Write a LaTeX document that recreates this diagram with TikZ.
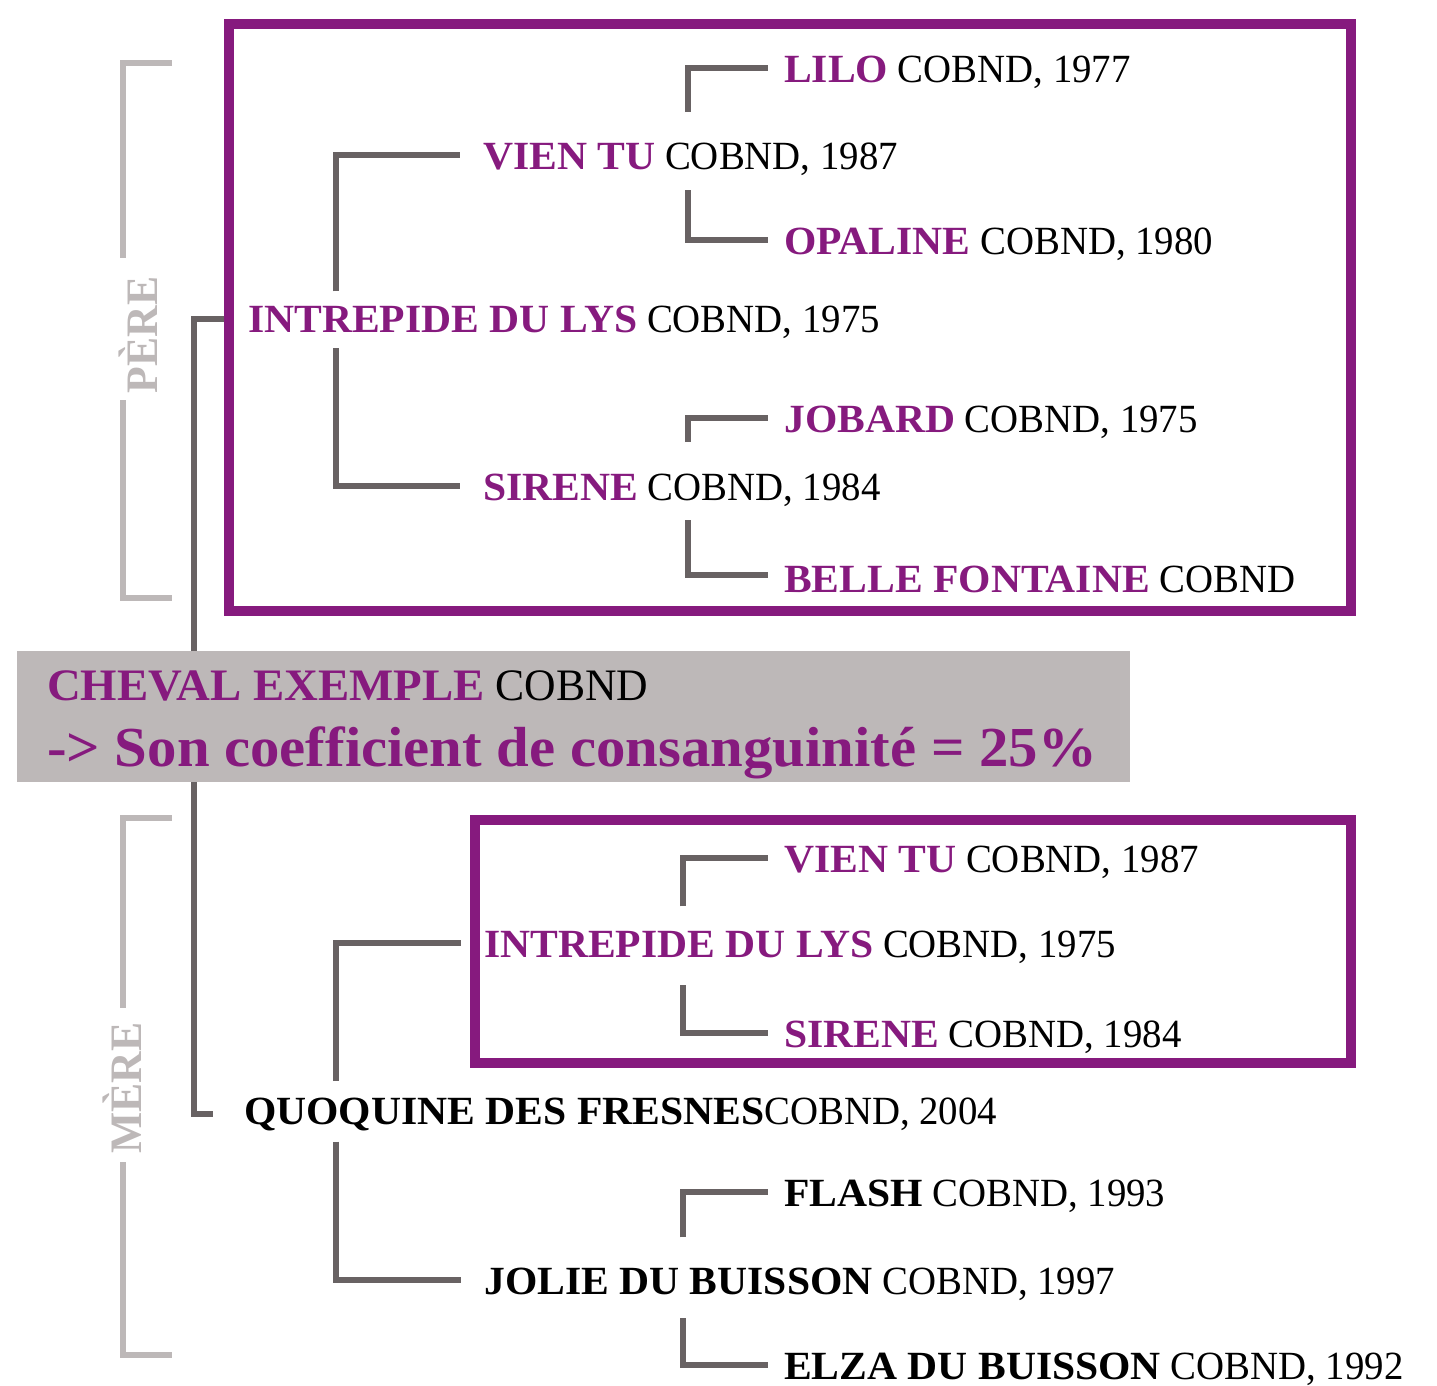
\documentclass[tikz,border=0pt]{standalone}
\usepackage{fontspec}
\setmainfont{Liberation Serif}[FakeStretch=0.97]
\newfontfamily\grasnom{Liberation Serif}[FakeStretch=1.04]
\usetikzlibrary{positioning}
\definecolor{prune}{RGB}{134,26,126}
\definecolor{trait}{RGB}{104,98,99}
\definecolor{gris}{RGB}{189,184,184}
\newcommand{\nom}[1]{{\grasnom\bfseries\color{prune}#1}}
\newcommand{\nomnoir}[1]{{\grasnom\bfseries #1}}
\tikzset{horse/.style={anchor=base west, inner sep=0pt, font=\fontsize{40}{48}\selectfont},
  link/.style={draw=trait, line width=6pt},
  frame/.style={draw=prune, line width=10pt},
  bracket/.style={draw=gris, line width=6pt},
  side/.style={text=gris, rotate=90, anchor=base, inner sep=0pt, font=\fontsize{45}{50}\selectfont\bfseries}}

\begin{document}
\begin{tikzpicture}[x=1pt,y=-1pt]
  \useasboundingbox (0,0) rectangle (1437,1385);

  % cheval exemple
  \node[fill=gris, anchor=north west, minimum width=1113pt, minimum height=131pt, inner sep=0pt] (cheval) at (17,651) {};
  \node[horse, font=\fontsize{45}{50}\selectfont] (titre) at (47,700) {\nom{CHEVAL EXEMPLE} COBND};
  \node[horse, font=\fontsize{56.5}{60}\selectfont\grasnom\bfseries, text=prune] (coef) at (47,766) {-> Son coefficient de consanguinité = 25\%};

  % ascendants
  \foreach \n/\x/\y/\t in {lilo/784/82/{\nom{LILO} COBND, 1977},
    vientuA/483/169/{\nom{VIEN TU} COBND, 1987},
    opaline/784/254/{\nom{OPALINE} COBND, 1980},
    intrepideA/248/332/{\nom{INTREPIDE DU LYS} COBND, 1975},
    jobard/784/432/{\nom{JOBARD} COBND, 1975},
    sireneA/483/500/{\nom{SIRENE} COBND, 1984},
    belle/784/592/{\nom{BELLE FONTAINE} COBND},
    vientuB/784/872/{\nom{VIEN TU} COBND, 1987},
    intrepideB/484/957/{\nom{INTREPIDE DU LYS} COBND, 1975},
    sireneB/784/1047/{\nom{SIRENE} COBND, 1984},
    quoquine/244/1124/{\nomnoir{QUOQUINE DES FRESNES}COBND, 2004},
    flash/784/1206/{\nomnoir{FLASH} COBND, 1993},
    jolie/484/1294/{\nomnoir{JOLIE DU BUISSON} COBND, 1997},
    elza/784/1379/{\nomnoir{ELZA DU BUISSON} COBND, 1992}}{
    \node[horse] (\n) at (\x,\y) {\t};
  }

  % liens parent -> pere / mere
  \foreach \p/\a/\b/\dx/\up/\dn/\g in {intrepideA/vientuA/sireneA/88/14/10/23,
    vientuA/lilo/opaline/205/30/15/16,
    sireneA/jobard/belle/205/31/14/16,
    intrepideB/vientuB/sireneB/199/24/22/16,
    quoquine/intrepideB/jolie/92/16/11/23,
    jolie/flash/elza/199/30/18/16}{
    \draw[link] ([xshift=\dx pt, yshift=\up pt]\p.north west) |- ([xshift=-\g pt, yshift=4pt]\a.west);
    \draw[link] ([xshift=\dx pt, yshift=-\dn pt]\p.south west) |- ([xshift=-\g pt, yshift=4pt]\b.west);
  }
  \draw[link] ([xshift=177pt]cheval.north west) |- ([xshift=-19pt, yshift=3pt]intrepideA.west);
  \draw[link] ([xshift=177pt]cheval.south west) |- ([xshift=-31pt]quoquine.west);

  % cadres
  \draw[frame] (229,24) rectangle (1351,611);
  \draw[frame] (475,820) rectangle (1351,1063);

  % pere / mere
  \node[side] (pere) at (157,335) {PÈRE};
  \draw[bracket] (172,63) -| (123,258);
  \draw[bracket] (123,400) |- (172,598);
  \node[side] (mere) at (141,1088) {MÈRE};
  \draw[bracket] (172,818) -| (123,1008);
  \draw[bracket] (123,1162) |- (172,1355);
\end{tikzpicture}
\end{document}
